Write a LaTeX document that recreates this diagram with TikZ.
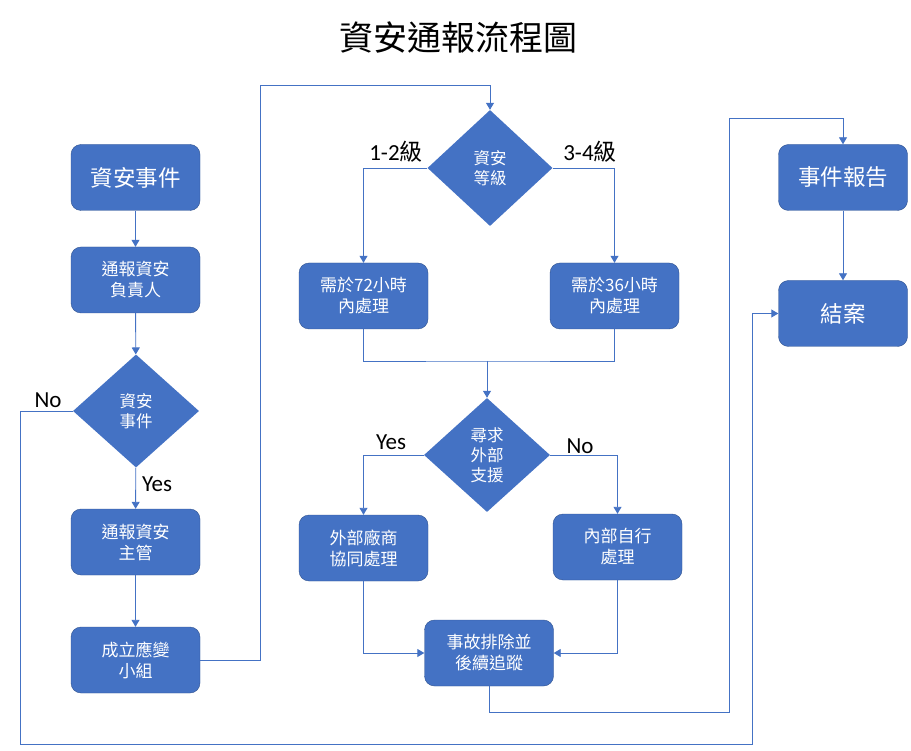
\documentclass[tikz,border=0pt]{standalone}
\usepackage{fontspec}
\setmainfont{Carlito}
\newfontfamily\cjk{Noto Sans CJK TC}
\usetikzlibrary{shapes.geometric, arrows.meta}
\definecolor{boxblue}{HTML}{4472C4}
\definecolor{edgeblue}{HTML}{2F528F}

\begin{document}
\begin{tikzpicture}[x=1pt, y=-1pt, >={Triangle[width=8pt,length=7pt]},
		box/.style={draw=edgeblue, fill=boxblue, rounded corners=10pt, minimum width=129pt, minimum height=66pt, align=center, text=white, font=\cjk\fontsize{17}{21}\selectfont},
		bigbox/.style={box, font=\cjk\fontsize{22.5}{26}\selectfont},
		choice/.style={diamond, fill=boxblue, inner sep=0pt, align=center, text=white, font=\cjk\fontsize{16.5}{20}\selectfont},
		flow/.style={boxblue, line width=0.9pt, ->},
		line/.style={boxblue, line width=0.9pt},
		tag/.style={font=\fontsize{23}{26}\selectfont}]
	\useasboundingbox (0,0) rectangle (911,751);
	\node[font=\cjk\fontsize{34}{40}\selectfont] (title) at (458,38) {資安通報流程圖};
	% left column
	\node[bigbox] (event) at (135.5,177.5) {資安事件};
	\node[box] (owner) at (135.5,280) {通報資安\\負責人};
	\node[choice, minimum width=126pt, minimum height=113pt] (isevt) at (136,411) {資安\\事件};
	\node[box] (chief) at (135.5,542) {通報資安\\主管};
	\node[box] (team) at (135.5,660) {成立應變\\小組};
	% middle column
	\node[choice, minimum width=125pt, minimum height=116pt] (level) at (490,168) {資安\\等級};
	\node[box] (f72) at (363.5,296) {需於72小時\\內處理};
	\node[box] (f36) at (614.5,296) {需於36小時\\內處理};
	\node[choice, minimum width=126pt, minimum height=114pt] (help) at (487,455) {尋求\\外部\\支援};
	\node[box] (vendor) at (363.5,548) {外部廠商\\協同處理};
	\node[box] (self) at (617.5,547) {內部自行\\處理};
	\node[box] (fix) at (489,653) {事故排除並\\後續追蹤};
	% right column
	\node[bigbox] (report) at (843,177.5) {事件報告};
	\node[bigbox] (close) at (843,313.5) {結案};

	\coordinate (up) at (260,85);
	\coordinate (join) at (487,361);
	\coordinate (down) at (729,712);
	\coordinate (top) at (729,118);
	\coordinate (low) at (20,744);
	\coordinate (back) at (752,744);

	\draw[flow] (event) -- (owner);
	\draw[flow] (owner) -- (isevt);
	\draw[flow] (isevt) -- (chief);
	\draw[flow] (chief) -- (team);
	\draw[flow] (team.east) -| (up) -| (level.north);
	\draw[flow] (level.west) -| (f72.north);
	\draw[flow] (level.east) -| (f36.north);
	\draw[line] (f72.south) |- (join) -| (f36.south);
	\draw[flow] (join) -- (help.north);
	\draw[flow] (help.west) -| (vendor.north);
	\draw[flow] (help.east) -| (self.north);
	\draw[flow] (vendor.south) |- (fix.west);
	\draw[flow] (self.south) |- (fix.east);
	\draw[flow] (fix.south) |- (down) -- (top) -| (report.north);
	\draw[flow] (report) -- (close);
	\draw[flow] (isevt.west) -| (low) -- (back) |- (close.west);

	\node[tag] (no1) at (48,400) {No};
	\node[tag] (yes1) at (157,484) {Yes};
	\node[tag] (low12) at (396,152) {1-2{\cjk 級}};
	\node[tag] (high34) at (590,152) {3-4{\cjk 級}};
	\node[tag] (yes2) at (391,442) {Yes};
	\node[tag] (no2) at (580,446) {No};
\end{tikzpicture}
\end{document}
